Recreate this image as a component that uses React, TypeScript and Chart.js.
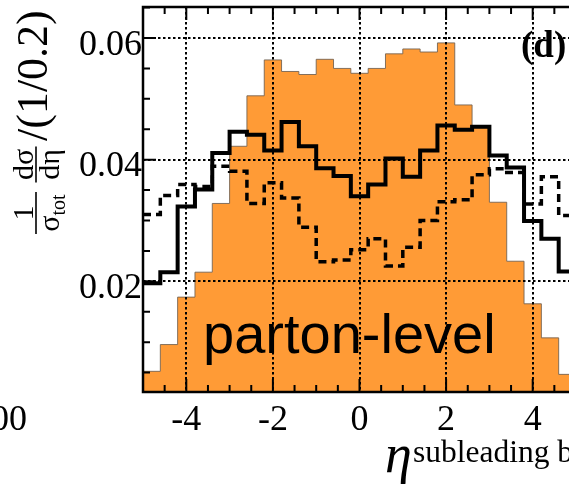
import React, { useEffect, useRef } from 'react';
import { Chart, registerables } from 'chart.js';

Chart.register(...registerables);

// Bin edges of the eta histogram (bin width 0.4)
const binEdges = [
  -5.0, -4.6, -4.2, -3.8, -3.4, -3.0, -2.6, -2.2, -1.8, -1.4, -1.0, -0.6, -0.2,
  0.2, 0.6, 1.0, 1.4, 1.8, 2.2, 2.6, 3.0, 3.4, 3.8, 4.2, 4.6, 5.0,
];

// parton-level (orange filled)
const partonLevel = [
  0.0052, 0.0096, 0.0174, 0.0215, 0.0328, 0.0422, 0.0505, 0.0564, 0.0545, 0.0540,
  0.0565, 0.0550, 0.0542, 0.0550, 0.0574, 0.0582, 0.0577, 0.0592, 0.0490, 0.0455,
  0.0330, 0.0233, 0.0163, 0.0107, 0.0047,
];

// solid black histogram
const solidSeries = [
  0.0197, 0.0215, 0.0323, 0.0351, 0.0411, 0.0446, 0.0441, 0.0415, 0.0462, 0.0422,
  0.0386, 0.0373, 0.0340, 0.0359, 0.0402, 0.0372, 0.0415, 0.0456, 0.0449, 0.0454,
  0.0407, 0.0387, 0.0299, 0.0270, 0.0216,
];

// dashed black histogram
const dashedSeries = [
  0.0310, 0.0341, 0.0359, 0.0356, 0.0389, 0.0381, 0.0328, 0.0362, 0.0337, 0.0289,
  0.0232, 0.0235, 0.0252, 0.0270, 0.0225, 0.0256, 0.0300, 0.0331, 0.0334, 0.0375,
  0.0385, 0.0379, 0.0327, 0.0372, 0.0308,
];

const xMajorTicks = [-4, -2, 0, 2, 4];
const xTickLabels = ['-4', '-2', '0', '2', '4'];
const yMajorTicks = [0.02, 0.04, 0.06];
const yTickLabels = ['0.02', '0.04', '0.06'];
const xMinorStep = 0.5;
const yMinorStep = 0.005;

const X_MIN = -5;
const X_MAX = 5;
const Y_MIN = 0.0018;
const Y_MAX = 0.0651;

const SERIF = '"Liberation Serif", "Times New Roman", serif';
const SANS = '"Liberation Sans", Arial, sans-serif';

function stepPoints(values: number[]) {
  const pts = values.map((v, i) => ({ x: binEdges[i], y: v }));
  pts.push({ x: binEdges[binEdges.length - 1], y: values[values.length - 1] });
  return pts;
}

const overlayPlugin = {
  id: 'overlay',
  afterDatasetDraw(chart: any, args: any) {
    if (args.index !== 0) return;
    const { ctx, chartArea: a, scales } = chart;
    ctx.save();
    ctx.beginPath();
    ctx.rect(a.left, a.top, a.right - a.left, a.bottom - a.top);
    ctx.clip();
    ctx.strokeStyle = '#000';
    ctx.lineWidth = 2;
    ctx.setLineDash([2.5, 2.5]);
    ctx.beginPath();
    for (const v of xMajorTicks) {
      const px = Math.round(scales.x.getPixelForValue(v));
      ctx.moveTo(px, a.top);
      ctx.lineTo(px, a.bottom);
    }
    for (const v of yMajorTicks) {
      const py = Math.round(scales.y.getPixelForValue(v));
      ctx.moveTo(a.left, py);
      ctx.lineTo(a.right, py);
    }
    ctx.stroke();
    ctx.restore();
  },
  afterDraw(chart: any) {
    const { ctx, chartArea: a, scales } = chart;
    const xs = scales.x;
    const ys = scales.y;
    ctx.save();
    ctx.setLineDash([]);
    ctx.strokeStyle = '#000';

    // ticks
    ctx.lineWidth = 2;
    ctx.beginPath();
    for (let v = X_MIN + xMinorStep; v < X_MAX - 1e-9; v += xMinorStep) {
      const px = xs.getPixelForValue(v);
      const major = Math.abs(v / 2 - Math.round(v / 2)) < 1e-6;
      const len = major ? 13 : 7;
      ctx.moveTo(px, a.bottom);
      ctx.lineTo(px, a.bottom - len);
      ctx.moveTo(px, a.top);
      ctx.lineTo(px, a.top + len);
    }
    for (let k = 1; k * yMinorStep < Y_MAX; k++) {
      const v = k * yMinorStep;
      if (v < Y_MIN) continue;
      const py = ys.getPixelForValue(v);
      const major = k % 4 === 0;
      const len = major ? 13 : 7;
      ctx.moveTo(a.left, py);
      ctx.lineTo(a.left + len, py);
    }
    ctx.stroke();

    // frame
    ctx.lineWidth = 2.5;
    ctx.beginPath();
    ctx.moveTo(a.right + 20, a.top);
    ctx.lineTo(a.left, a.top);
    ctx.lineTo(a.left, a.bottom);
    ctx.lineTo(a.right + 20, a.bottom);
    ctx.stroke();

    // tick labels
    ctx.fillStyle = '#000';
    ctx.font = `36px ${SERIF}`;
    ctx.textAlign = 'center';
    ctx.textBaseline = 'alphabetic';
    xMajorTicks.forEach((v, i) => {
      ctx.fillText(xTickLabels[i], xs.getPixelForValue(v), 430);
    });
    ctx.textAlign = 'right';
    yMajorTicks.forEach((v, i) => {
      ctx.fillText(yTickLabels[i], a.left - 1, ys.getPixelForValue(v) + 16.5);
    });
    // neighbouring panel's tick label fragment
    ctx.fillText('00', 27, 430);

    // panel label
    ctx.textAlign = 'left';
    ctx.font = `bold 37px ${SERIF}`;
    ctx.fillText('(d)', 521, 57);

    // parton-level
    ctx.font = `56px ${SANS}`;
    ctx.fillText('parton-level', 203, 353);

    // x axis title
    ctx.font = `italic 54px ${SERIF}`;
    ctx.fillText('\u03b7', 385, 472);
    ctx.font = `31.5px ${SERIF}`;
    ctx.fillText('subleading b-jet', 413, 462);

    // y axis title (rotated)
    ctx.save();
    ctx.rotate(-Math.PI / 2);
    // first fraction: 1 / sigma_tot
    {
      const c = -213;
      ctx.textAlign = 'center';
      ctx.font = `30px ${SERIF}`;
      ctx.fillText('1', c, 33);
      ctx.lineWidth = 1.6;
      ctx.beginPath();
      ctx.moveTo(c - 21, 36);
      ctx.lineTo(c + 21, 36);
      ctx.stroke();
      ctx.textAlign = 'left';
      ctx.font = `30px ${SERIF}`;
      const w1 = ctx.measureText('\u03c3').width;
      ctx.font = `20px ${SERIF}`;
      const w2 = ctx.measureText('tot').width;
      const start = c - (w1 + w2) / 2;
      ctx.font = `30px ${SERIF}`;
      ctx.fillText('\u03c3', start, 59);
      ctx.font = `20px ${SERIF}`;
      ctx.fillText('tot', start + w1, 65);
    }
    // second fraction: d sigma / d eta
    {
      const c = -164.5;
      ctx.textAlign = 'center';
      ctx.font = `30px ${SERIF}`;
      ctx.fillText('d\u03c3', c, 33);
      ctx.lineWidth = 1.6;
      ctx.beginPath();
      ctx.moveTo(c - 18, 36);
      ctx.lineTo(c + 18, 36);
      ctx.stroke();
      ctx.fillText('d\u03b7', c, 59);
    }
    ctx.textAlign = 'left';
    ctx.font = `44px ${SERIF}`;
    ctx.fillText('/(1/0.2)', -141, 47);
    ctx.restore();

    ctx.restore();
  },
};

export default function App() {
  const canvasRef = useRef<HTMLCanvasElement | null>(null);

  useEffect(() => {
    const canvas = canvasRef.current;
    if (!canvas) return;
    const chart = new Chart(canvas, {
      type: 'line',
      data: {
        datasets: [
          {
            label: 'parton-level',
            data: stepPoints(partonLevel),
            stepped: 'before',
            fill: 'start',
            backgroundColor: '#ff9b36',
            borderColor: 'rgba(110,95,80,0.85)',
            borderWidth: 1,
            pointRadius: 0,
            order: 2,
          },
          {
            label: 'solid',
            data: stepPoints(solidSeries),
            stepped: 'before',
            fill: false,
            borderColor: '#000',
            borderWidth: 4,
            borderJoinStyle: 'miter',
            pointRadius: 0,
            order: 0,
          },
          {
            label: 'dashed',
            data: stepPoints(dashedSeries),
            stepped: 'before',
            fill: false,
            borderColor: '#000',
            borderWidth: 3.5,
            borderDash: [8, 5],
            borderJoinStyle: 'miter',
            pointRadius: 0,
            order: 1,
          },
        ],
      } as any,
      options: {
        animation: false,
        responsive: false,
        devicePixelRatio: 1,
        layout: { padding: { left: 143, top: 7, right: 24, bottom: 97 } },
        plugins: {
          legend: { display: false },
          tooltip: { enabled: false },
        },
        scales: {
          x: { type: 'linear', min: X_MIN, max: X_MAX, display: false },
          y: { type: 'linear', min: Y_MIN, max: Y_MAX, display: false },
        },
      } as any,
      plugins: [overlayPlugin],
    });
    return () => {
      chart.destroy();
    };
  }, []);

  return (
    <div
      style={{
        position: 'fixed',
        left: 0,
        top: 0,
        width: 569,
        height: 489,
        overflow: 'hidden',
        background: '#fff',
      }}
    >
      <canvas ref={canvasRef} width={600} height={489} style={{ display: 'block' }} />
    </div>
  );
}
